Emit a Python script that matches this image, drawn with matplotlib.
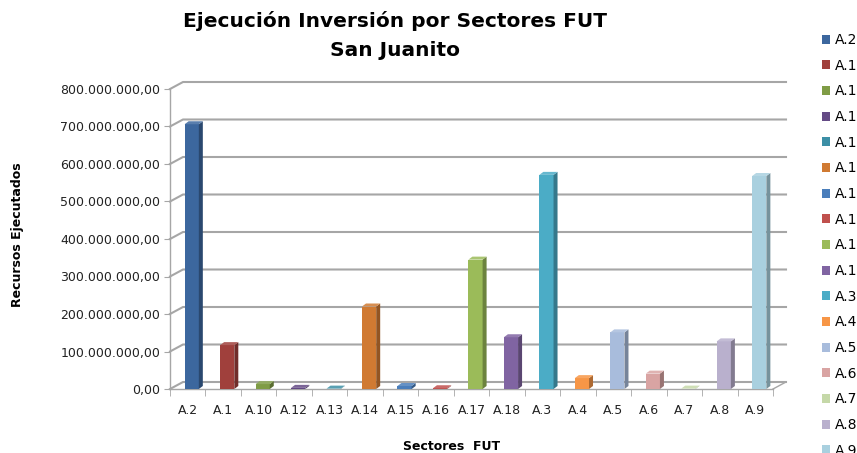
import numpy as np  # для масивів
import matplotlib
matplotlib.use('Agg')
import matplotlib.pyplot as plt
from matplotlib.colors import to_rgb
from matplotlib.patches import Polygon, Patch
from matplotlib.ticker import FuncFormatter

# дані
sectores = ['A.2', 'A.1', 'A.10', 'A.12', 'A.13', 'A.14', 'A.15', 'A.16', 'A.17',
            'A.18', 'A.3', 'A.4', 'A.5', 'A.6', 'A.7', 'A.8', 'A.9']
recursos = [706e6, 117e6, 13e6, 3e6, 1e6, 220e6, 8e6, 2e6, 345e6,
            138e6, 571e6, 29e6, 151e6, 41e6, 1e6, 127e6, 568e6]
colores = ['#3c679e', '#a0403c', '#7f9c45', '#644a85', '#3c8fa6', '#d07a32',
           '#4a7ebb', '#c0504d', '#9bbb59', '#8064a2', '#4bacc6', '#f79646',
           '#a8bcdc', '#d9a4a3', '#c5d8a8', '#b9b0cd', '#a9d0df']
y_ticks = np.arange(0, 800e6 + 1, 100e6)


def pesos(v, pos=None):
    """Формат 800.000.000,00"""
    s = '{:,.2f}'.format(v)
    return s.replace(',', '#').replace('.', ',').replace('#', '.')


def sombra(c, k):
    r, g, b = to_rgb(c)
    return (r * k, g * k, b * k)


def claro(c, k):
    r, g, b = to_rgb(c)
    return (r + (1 - r) * k, g + (1 - g) * k, b + (1 - b) * k)


fig = plt.figure(figsize=(8.57, 4.53), dpi=100)
ax = fig.add_axes([170 / 857, (453 - 389) / 453, 603 / 857, 300 / 453])
n = len(sectores)
ax.set_xlim(-0.5, n - 0.5)
ax.set_ylim(0, 800e6)

px_x = n / 603.0
px_y = 800e6 / 300.0
dx_pared = 13 * px_x
dy_pared = 7 * px_y
gris = '#a6a6a6'

# сітка на задній стінці
for v in y_ticks:
    ax.plot([-0.5, -0.5 + dx_pared, n - 0.5 + dx_pared], [v, v + dy_pared, v + dy_pared],
            color=gris, lw=1.5, clip_on=False, zorder=1)
ax.plot([n - 0.5, n - 0.5 + dx_pared], [0, dy_pared], color=gris, lw=1.0, clip_on=False, zorder=1)

# стовпці з ефектом 3D
ancho = 0.4
desplaz = 4 * px_x
prof_x = 4 * px_x
prof_y = 3 * px_y
for i, (v, c) in enumerate(zip(recursos, colores)):
    x0 = i + desplaz - ancho / 2
    x1 = x0 + ancho
    ax.bar(i + desplaz, v, width=ancho, color=c, zorder=3)
    lado = Polygon([(x1, 0), (x1 + prof_x, prof_y), (x1 + prof_x, v + prof_y), (x1, v)],
                   closed=True, facecolor=sombra(c, 0.7), edgecolor='none', zorder=3)
    tapa = Polygon([(x0, v), (x0 + prof_x, v + prof_y), (x1 + prof_x, v + prof_y), (x1, v)],
                   closed=True, facecolor=claro(c, 0.15), edgecolor='none', zorder=3)
    ax.add_patch(lado)
    ax.add_patch(tapa)

# осі
for s in ['top', 'right']:
    ax.spines[s].set_visible(False)
for s in ['left', 'bottom']:
    ax.spines[s].set_color(gris)
    ax.spines[s].set_linewidth(1.0)
ax.set_yticks(y_ticks)
ax.yaxis.set_major_formatter(FuncFormatter(pesos))
ax.tick_params(axis='y', colors=gris, labelcolor='#222222', length=4, labelsize=9, pad=3)
ax.set_xticks(range(n))
ax.set_xticklabels(sectores)
ax.set_xticks(np.arange(-0.5, n, 1), minor=True)
ax.tick_params(axis='x', which='major', length=0, labelsize=9, labelcolor='#222222', pad=11)
ax.tick_params(axis='x', which='minor', length=5, color=gris)

# підписи
fig.text(395 / 857, 1 - 11 / 453, 'Ejecución Inversión por Sectores FUT\nSan Juanito',
         ha='center', va='top', fontsize=14.5, fontweight='bold', linespacing=1.7)
fig.text(18 / 857, 1 - 235 / 453, 'Recursos Ejecutados', rotation=90,
         ha='center', va='center', fontsize=9, fontweight='bold')
fig.text(452 / 857, 1 - 447 / 453, 'Sectores  FUT', ha='center', va='center',
         fontsize=9, fontweight='bold')

# легенда (обрізана правим краєм, як в оригіналі)
manijas = [Patch(facecolor=c) for c in colores]
fig.legend(manijas, sectores, loc='upper left', bbox_to_anchor=(822 / 857, 1 - 33 / 453),
           frameon=False, fontsize=10, handlelength=0.6, handleheight=0.6,
           handletextpad=0.35, labelspacing=0.84, borderaxespad=0, borderpad=0)

fig.savefig('out.png', dpi=100)
